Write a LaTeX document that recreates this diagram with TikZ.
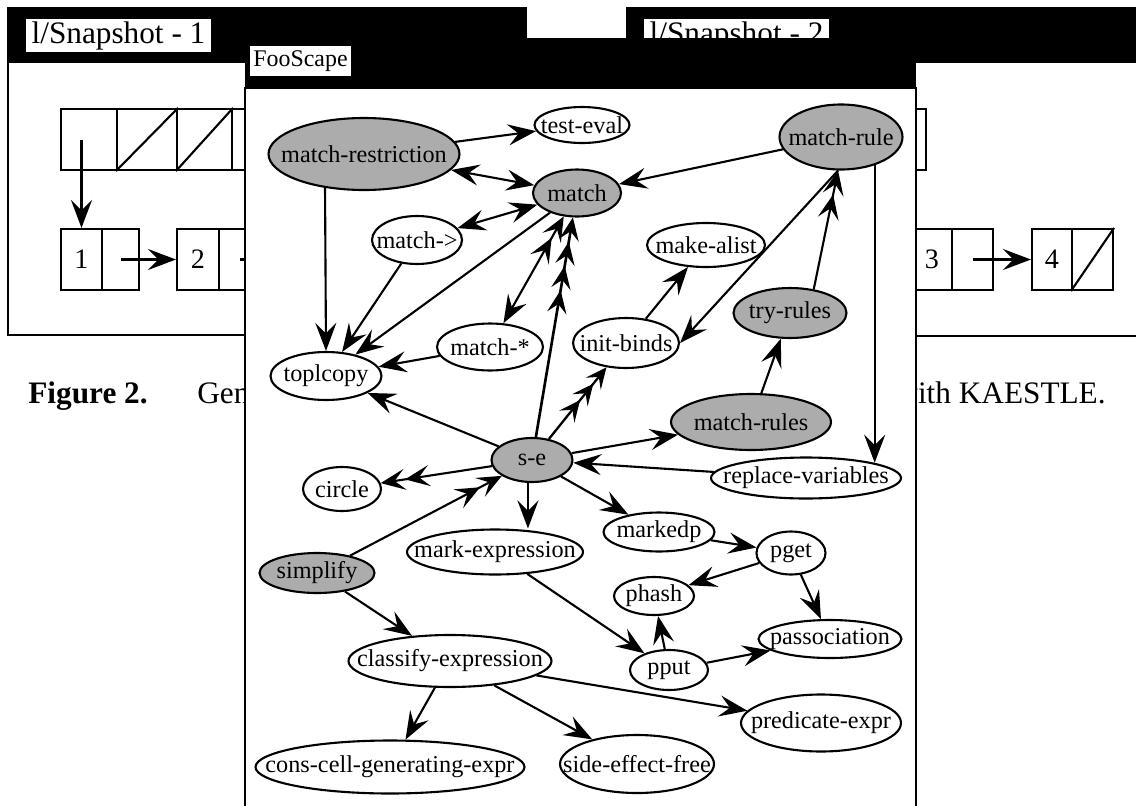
\documentclass[tikz,border=0pt]{standalone}
\usepackage{fontspec}
\setmainfont{Liberation Serif}
\usetikzlibrary{shapes.geometric, arrows.meta}

\newcommand\graphfont{\fontsize{13.8}{16}\selectfont}
\newcommand\bigfont{\fontsize{17.8}{21}\selectfont}

\begin{document}
\begin{tikzpicture}[x=0.02cm, y=-0.02cm,
  nd/.style={ellipse, draw, line width=1.2pt, fill=white, inner sep=0pt, font=\graphfont,
    execute at begin node={\hbox to 0pt\bgroup\hss}, execute at end node={\hss\egroup}},
  ng/.style={nd, fill=gray!65},
  cell/.style={draw, line width=1.2pt, fill=white, inner sep=0pt, minimum height=1.22cm,
    font=\fontsize{16}{18}\selectfont},
  ttl/.style={fill=white, inner xsep=3pt, inner ysep=0pt, minimum height=0.66cm, font=\bigfont},
  arr/.style={line width=1.2pt, -{Stealth[length=16pt, width=12pt, inset=6pt]}},
  dbl/.style={line width=1.2pt, {Stealth[length=16pt, width=12pt, inset=6pt]}-{Stealth[length=16pt, width=12pt, inset=6pt]}},
  dbltwo/.style={line width=1.2pt, {Stealth[length=16pt, width=12pt, inset=6pt]}-{Stealth[length=14pt, width=12pt, inset=6pt]Stealth[length=14pt, width=12pt, inset=6pt]}},
  arrtwo/.style={line width=1.2pt, -{Stealth[length=14pt, width=12pt, inset=6pt]Stealth[length=14pt, width=12pt, inset=6pt]}},
  arrthree/.style={line width=1.3pt, -{Stealth[length=12pt, width=11pt, inset=5pt]Stealth[length=12pt, width=11pt, inset=5pt]Stealth[length=12pt, width=11pt, inset=5pt]}},
  arrfour/.style={line width=1.5pt, -{Stealth[length=13pt, width=11pt, inset=5pt, sep=1pt]Stealth[length=13pt, width=11pt, inset=5pt, sep=1pt]Stealth[length=13pt, width=11pt, inset=5pt, sep=1pt]Stealth[length=13pt, width=11pt, inset=5pt]}}
]
\clip (0,0) rectangle (1136,805);
\fill[white] (0,0) rectangle (1136,805);

% snapshot 1
\draw[line width=1.2pt] (8,62) rectangle (600,335);
\fill (7,7) rectangle (527,62);
\node[ttl, anchor=west] (snapa) at (26,35.5) {l/Snapshot - 1};
\node[cell, minimum width=1.12cm] (t1) at (89,139.5) {};
\node[cell, minimum width=1.2cm] (t2) at (147,139.5) {};
\node[cell, minimum width=1.1cm] (t3) at (204.5,139.5) {};
\node[cell, minimum width=1.14cm] (t4) at (260.5,139.5) {};
\draw[line width=1.2pt] (t2.south west) -- (t2.north east);
\draw[line width=1.2pt] (t3.south west) -- (t3.north east);
\node[cell, minimum width=0.82cm] (b1) at (81.5,259.5) {1};
\node[cell, minimum width=0.74cm] (b2) at (120.5,259.5) {};
\node[cell, minimum width=0.84cm] (b3) at (198,259.5) {2};
\node[cell, minimum width=0.82cm] (b4) at (239.5,259.5) {};
\coordinate (bnext) at (290,259.5);
\draw[arr] (b1.north |- t1.center) -- (b1.north);
\draw[arr] (b2.center) -- (b3.west);
\draw[arr] (b4.center) -- (bnext);

% snapshot 2
\draw[line width=1.2pt] (626,62) rectangle (1140,336);
\fill (626,7) rectangle (1140,62);
\node[ttl, anchor=west] (snapb) at (644,35.5) {l/Snapshot - 2};
\node[cell, minimum width=1.14cm] (u1) at (897.5,139.5) {};
\node[cell, minimum width=0.8cm] (c1) at (932,259.5) {3};
\node[cell, minimum width=0.82cm] (c2) at (972.5,259.5) {};
\node[cell, minimum width=0.8cm] (c3) at (1052,259.5) {4};
\node[cell, minimum width=0.82cm] (c4) at (1092.5,259.5) {};
\draw[line width=1.2pt] (c4.south west) -- (c4.north east);
\draw[arr] (c2.center) -- (c3.west);

% caption
\node[font=\bigfont\bfseries, anchor=base west, inner sep=0pt] (fig) at (28,403) {Figure 2.};
\node[font=\bigfont, anchor=base west, inner sep=0pt] (capa) at (197,403) {Gen};
\node[font=\bigfont, anchor=base east, inner sep=0pt] (capb) at (1106,403) {with KAESTLE.};

% FooScape window
\draw[line width=1.2pt, fill=white] (245,88) rectangle (916,830);
\fill (245,38) rectangle (916,88);
\node[fill=white, inner xsep=2pt, inner ysep=0pt, minimum height=0.6cm, font=\fontsize{13.6}{16}\selectfont] (foo) at (300.5,61) {FooScape};

% graph
\node[nd, minimum width=1.9cm, minimum height=0.72cm] (testeval) at (582,125) {test-eval};
\node[ng, minimum width=3.82cm, minimum height=1.44cm] (matchrestr) at (364,154) {match-restriction};
\node[ng, minimum width=2.46cm, minimum height=1.3cm] (matchrule) at (841,137) {match-rule};
\node[ng, minimum width=1.76cm, minimum height=0.94cm] (match) at (577,193) {match};
\node[nd, minimum width=1.8cm, minimum height=0.96cm] (matchto) at (417,240) {match->};
\node[nd, minimum width=2.36cm, minimum height=0.88cm] (makealist) at (706,245) {make-alist};
\node[ng, minimum width=2.26cm, minimum height=1cm] (tryrules) at (790,313) {try-rules};
\node[nd, minimum width=2.12cm, minimum height=0.94cm] (matchstar) at (490,347) {match-*};
\node[nd, minimum width=2.12cm, minimum height=1cm] (initbinds) at (626,343) {init-binds};
\node[nd, minimum width=2.22cm, minimum height=0.96cm] (toplcopy) at (326,376) {toplcopy};
\node[ng, minimum width=3.2cm, minimum height=1.12cm] (matchrules) at (751,422) {match-rules};
\node[ng, minimum width=1.62cm, minimum height=0.88cm] (se) at (532,460) {s-e};
\node[nd, minimum width=1.56cm, minimum height=0.88cm] (circle) at (342,489) {circle};
\node[nd, minimum width=3.8cm, minimum height=0.82cm] (replvars) at (806,478) {replace-variables};
\node[nd, minimum width=2.22cm, minimum height=0.78cm] (markedp) at (659,532) {markedp};
\node[nd, minimum width=3.52cm, minimum height=0.9cm] (markexpr) at (495,552) {mark-expression};
\node[nd, minimum width=1.38cm, minimum height=0.86cm] (pget) at (791,553) {pget};
\node[ng, minimum width=2.3cm, minimum height=0.8cm] (simplify) at (317,573) {simplify};
\node[nd, minimum width=1.6cm, minimum height=0.76cm] (phash) at (654,596) {phash};
\node[nd, minimum width=2.86cm, minimum height=0.76cm] (passoc) at (830,639) {passociation};
\node[nd, minimum width=4.06cm, minimum height=1.04cm] (classify) at (450,661) {classify-expression};
\node[nd, minimum width=1.56cm, minimum height=0.8cm] (pput) at (669,670) {pput};
\node[nd, minimum width=3.2cm, minimum height=1.14cm] (predexpr) at (821,723) {predicate-expr};
\node[nd, minimum width=5.38cm, minimum height=1.06cm] (conscell) at (390,767) {cons-cell-generating-expr};
\node[nd, minimum width=3.08cm, minimum height=1.16cm] (sideeff) at (637,764) {side-effect-free};

\draw[arr] (matchrestr) -- (testeval);
\draw[dbl] (matchrestr) -- (match);
\draw[arr] (matchrestr.-139) -- (toplcopy.north);
\draw[arr] (matchrule) -- (match);
\draw[arr] (matchrule.-95) -- (initbinds.east);
\draw[arr] (matchrule.-40) -- (matchrule.-40 |- replvars.north east);
\draw[dbl] (match) -- (matchto);
\draw[arr] (match) -- (toplcopy);
\draw[dbltwo] (matchstar) -- (match);
\draw[arrfour] (se) -- (match);
\draw[arrthree] (se) -- (initbinds);
\draw[arr] (initbinds) -- (makealist);
\draw[arr] (matchstar) -- (toplcopy);
\draw[arr] (matchto) -- (toplcopy);
\draw[arr] (matchrules) -- (tryrules);
\draw[arrtwo] (tryrules.45) -- (matchrule.-95);
\draw[arr] (se) -- (toplcopy);
\draw[arr] (se) -- (matchrules);
\draw[arrtwo] (se) -- (circle);
\draw[arr] (replvars) -- (se);
\draw[arrtwo] (simplify) -- (se);
\draw[arr] (se.-100) -- (se.-100 |- markexpr.north);
\draw[arr] (se) -- (markedp);
\draw[arr] (markedp) -- (pget);
\draw[arr] (pget) -- (phash);
\draw[arr] (pget) -- (passoc);
\draw[arr] (markexpr) -- (pput);
\draw[arr] (pput) -- (phash);
\draw[arr] (pput) -- (passoc);
\draw[arr] (simplify) -- (classify);
\draw[arr] (classify) -- (conscell);
\draw[arr] (classify) -- (sideeff);
\draw[arr] (classify) -- (predexpr);
\end{tikzpicture}
\end{document}
